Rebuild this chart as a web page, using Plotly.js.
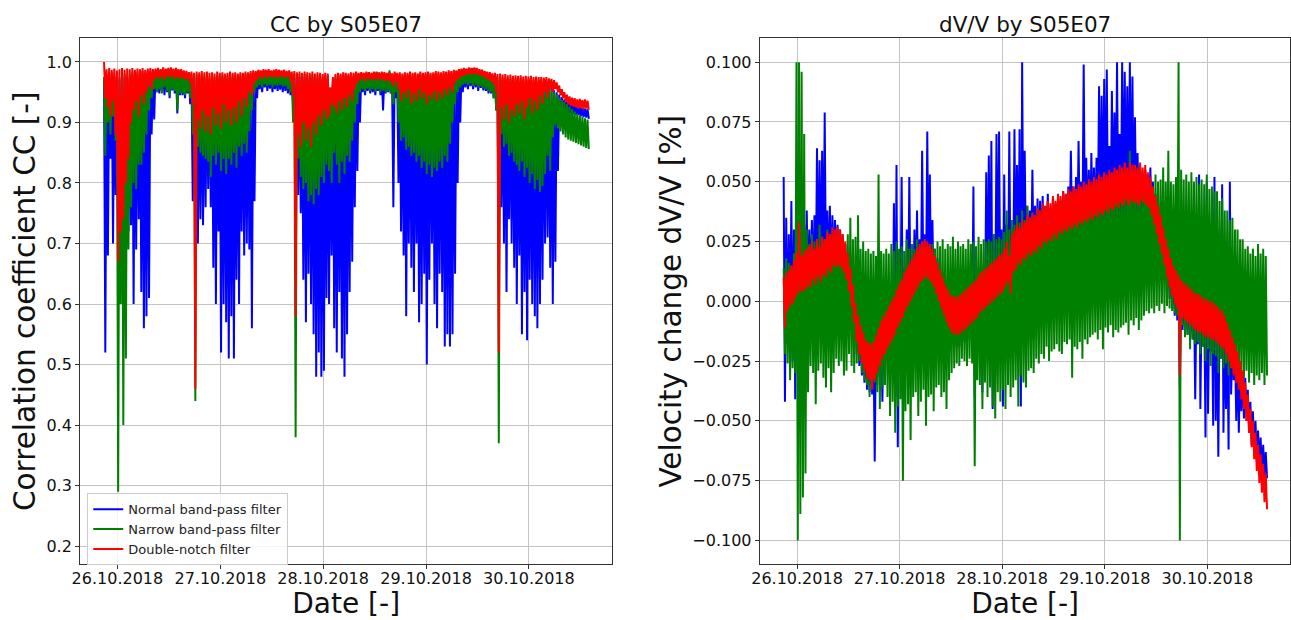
<!DOCTYPE html>
<html>
<head>
<meta charset="utf-8">
<script src="https://cdn.plot.ly/plotly-3.0.1.min.js"></script>
<style>
html,body{margin:0;padding:0;background:#ffffff;}
#chart{width:1291px;height:620px;}
</style>
</head>
<body>
<div id="chart"></div>
<script>
// ---------- categories / labels ----------
const seriesNames  = ['Normal band-pass filter', 'Narrow band-pass filter', 'Double-notch filter'];
const seriesColors = ['#0000ff', '#008000', '#ff0000'];
const dateTickValues = ['2018-10-26', '2018-10-27', '2018-10-28', '2018-10-29', '2018-10-30'];
const dateTickLabels = ['26.10.2018', '27.10.2018', '28.10.2018', '29.10.2018', '30.10.2018'];

// sampling grid of the read-off envelope: first sample and spacing (each sample = one max and one min reading)
const sampleStartUTC = Date.UTC(2018, 9, 25, 20, 52, 48);
const sampleStepMinutes = 36;

// ---------- CC values (x1000), per sample: upper reading / lower reading ----------
const ccNormalHi = [
970,975,972,977,970,975,971,974,976,972, 974,978,975,979,976,980,977,979,978,981,
979,981,980,983,981,982,984,981,982,980, 979,977,975,976,974,973,975,972,974,971,
973,971,974,970,973,972,974,971,973,972, 974,972,975,973,974,976,975,977,978,977,
979,978,980,979,980,978,979,980,979,978, 979,977,978,975,976,974,975,973,975,974,
973,975,972,974,973,971,973,972,945,967, 972,974,973,975,974,973,975,974,976,974,
975,974,976,975,974,976,979,978,976,975, 974,978,973,976,974,975,973,975,974,976,
974,975,973,976,974,975,976,974,975,977, 976,975,977,976,978,977,979,980,982,983,
984,983,985,984,985,983,980,978,976,975, 974,972,973,970,971,969,970,968,969,967,
968,967,968,966,967,966,967,965,966,964, 966,965,963,960,957,953,950,946,942,938,
935,932,930,928,926,925,924,923,922];
const ccNormalLo = [
520,680,840,700,780,650,700,750,660,720, 730,600,690,740,620,560,580,610,880,905,
950,948,952,945,950,940,953,948,915,945, 945,940,948,930,770,760,700,740,730,760,
790,760,660,600,720,520,600,570,510,580, 510,640,600,720,680,700,690,560,770,940,
955,950,958,952,956,950,955,952,954,950, 952,948,945,930,840,780,750,640,570,650,
600,550,480,520,480,490,610,600,680,560, 520,620,510,480,550,620,670,760,820,900,
950,945,952,948,950,945,952,945,920,948, 950,948,760,940,800,720,680,580,700,660,
620,700,570,600,650,500,640,700,600,560, 650,620,530,550,530,550,650,800,900,950,
958,955,960,955,958,952,957,953,952,948, 948,940,920,620,760,700,620,740,700,660,
600,680,550,620,540,640,600,580,560,600, 640,700,710,660,600,670,820,900,915,918,
916,915,914,913,912,910,909,908,906];
const ccNarrowHi = [
975,980,978,982,976,980,975,978,981,977, 979,983,980,984,981,985,982,984,983,986,
984,986,985,988,986,987,989,986,987,985, 984,982,980,981,979,978,980,977,979,976,
978,976,979,975,978,977,979,976,978,977, 979,977,980,978,979,981,980,982,983,982,
984,983,985,984,985,983,984,985,984,983, 984,982,983,980,981,979,980,978,980,979,
978,980,977,979,978,976,978,977,950,972, 977,979,978,980,979,978,980,979,981,979,
980,979,981,980,979,981,984,983,981,980, 979,986,978,981,979,980,978,980,979,981,
979,980,978,981,979,980,981,979,980,982, 981,980,982,981,983,982,984,985,987,988,
989,988,990,989,990,988,985,983,981,980, 979,977,978,975,976,974,975,973,974,972,
973,972,973,971,972,971,972,970,971,969, 968,966,964,960,955,950,946,941,937,934,
930,926,922,918,914,912,909,907,905];
const ccNarrowLo = [
845,900,880,910,870,290,600,400,510,690, 760,800,790,830,830,850,880,920,940,955,
950,955,948,958,952,945,955,952,920,948, 948,945,950,940,880,440,860,850,845,840,
835,810,845,830,850,820,840,815,840,830, 850,825,860,845,865,850,885,920,950,958,
962,958,963,960,962,958,961,960,962,959, 960,955,950,900,380,840,810,790,800,770,
780,765,790,780,810,800,830,820,800,850, 830,800,835,815,845,835,870,900,930,950,
955,952,956,952,955,951,955,950,953,950, 952,948,930,950,900,870,875,855,860,845,
850,835,845,825,835,815,830,810,825,820, 835,825,845,835,865,900,930,950,958,962,
964,962,964,960,962,958,960,957,955,952, 950,940,920,370,880,860,865,845,850,835,
830,820,835,810,825,800,815,790,805,785, 795,815,845,820,875,895,890,885,880,875,
872,870,868,866,864,862,860,858,856];
const ccNotchHi = [
1000,988,990,987,989,986,988,990,987,989, 988,990,987,989,988,990,987,989,990,988,
989,990,988,991,989,990,991,989,990,988, 988,986,985,983,984,982,984,983,985,983,
984,982,983,981,984,982,983,981,982,984, 982,983,981,983,982,984,983,985,986,985,
987,986,988,987,988,986,987,988,987,986, 987,985,986,984,985,983,984,982,984,983,
982,984,981,983,982,980,982,981,958,975, 980,982,981,983,982,981,983,982,984,982,
983,982,984,983,982,984,983,982,984,983, 982,983,981,984,982,983,981,983,982,984,
982,983,981,984,982,983,984,982,983,985, 984,983,985,984,986,985,987,986,988,989,
990,989,991,990,991,990,988,987,985,984, 983,981,982,980,981,979,980,978,979,977,
978,977,978,976,977,976,977,975,976,975, 975,974,975,973,972,970,966,961,955,950,
946,943,941,940,938,939,937,938,936];
const ccNotchLo = [
940,925,910,935,880,670,720,740,800,840, 900,920,935,910,945,930,950,960,955,970,
975,972,976,970,977,974,976,972,975,973, 974,970,972,965,930,460,905,890,920,885,
910,880,925,895,915,890,930,900,920,895, 925,900,935,910,940,925,950,945,965,970,
975,972,976,973,977,974,976,973,977,975, 974,976,968,945,580,880,860,900,870,890,
860,900,880,910,895,920,905,910,930,925, 915,935,920,940,925,945,935,955,965,970,
972,968,973,970,972,969,973,970,971,968, 970,966,960,968,955,935,950,940,955,930,
948,935,955,940,950,930,945,938,952,935, 950,940,955,945,958,950,965,970,975,977,
978,980,979,981,980,979,977,976,973,970, 968,963,950,520,925,905,930,900,920,910,
930,915,935,905,925,940,915,935,920,945, 930,950,940,955,950,955,950,945,940,935,
930,928,926,925,923,924,922,923,921];

// ---------- dV/V values (x1000, i.e. in 0.001 %), per sample: upper / lower reading ----------
const dvNormalHi = [
52,35,28,42,30,40,33,52,32,38, 30,34,36,64,59,63,79,38,40,36,
34,32,30,28,24,20,14,8,0,-5, -8,-11,-14,-15,-16,-15,-12,-9,-6,-4,
-2,0,4,41,57,10,52,14,30,52, 24,30,38,26,63,28,71,53,34,22,
18,15,12,9,7,5,4,4,4,5, 6,7,8,9,48,12,14,20,15,54,
61,67,28,70,71,30,53,32,71,30, 72,57,72,100,63,40,38,55,40,43,
42,44,40,45,39,43,41,44,42,46, 45,48,63,48,52,67,50,99,60,55,
62,56,60,90,86,93,97,65,88,79, 100,70,100,96,90,100,94,77,62,55,
54,55,53,56,50,45,40,36,31,26, 22,18,15,13,11,9,8,7,6,5,
4,3,53,2,1,50,0,0,52,-2, -3,49,-6,-9,50,-15,-18,-21,-25,-29,
-32,-37,-42,-46,-50,-54,-57,-60,-63];
const dvNormalLo = [
-42,-18,-14,-25,-41,-3,-2,-1,0,1, 2,3,2,4,3,5,6,7,8,9,
9,10,9,7,4,-1,-7,-14,-22,-27, -31,-34,-37,-38,-39,-67,-35,-32,-42,-27,
-25,-23,-21,-40,-61,-14,-12,-9,-7,-5, -3,-1,1,3,4,5,4,3,1,-2,
-5,-8,-11,-14,-16,-18,-19,-19,-19,-18, -17,-16,-15,-14,-40,-12,-10,-38,-8,-7,
-6,-45,-4,-3,-2,-44,1,3,-2,7, 9,10,-44,12,13,14,15,15,16,17,
18,19,20,20,21,22,22,23,24,24, 25,25,26,26,27,27,28,28,29,29,
30,30,31,31,32,32,33,33,34,34, 35,35,35,36,36,36,36,36,36,36,
36,35,34,31,27,23,19,15,10,5, 1,-3,-6,-8,-36,-12,-13,-14,-15,-16,
-41,-18,-45,-19,-57,-47,-21,-52,-50,-65, -24,-55,-45,-62,-39,-33,-50,-55,-46,-49,
-50,-55,-60,-64,-67,-70,-72,-73,-74];
const dvNarrowHi = [
14,18,16,15,20,100,100,96,70,30, 24,28,25,26,32,27,26,30,28,27,
26,30,25,27,24,28,35,26,27,36, 22,25,21,22,20,21,19,53,21,20,
22,20,24,21,25,22,23,21,26,22, 24,22,26,23,25,22,23,21,24,22,
25,23,26,22,24,23,27,22,25,23, 24,22,26,24,25,23,27,24,26,25,
26,25,28,26,27,26,29,38,30,34, 32,36,33,38,34,40,35,37,36,39,
38,40,37,42,39,41,40,43,41,44, 42,45,41,46,43,44,43,47,44,45,
44,46,44,48,45,47,45,49,46,48, 46,50,47,48,47,63,51,48,50,48,
48,52,49,50,48,53,50,51,56,50, 63,50,49,52,100,55,51,53,50,54,
50,52,49,51,49,53,47,48,46,46, 42,43,38,38,34,35,30,30,26,26,
22,23,20,22,19,24,20,22,19];
const dvNarrowLo = [
-22,-26,-33,-28,-30,-100,-89,-82,-72,-38, -27,-30,-43,-29,-26,-32,-36,-28,-38,-30,
-24,-27,-25,-31,-29,-22,-27,-30,-26,-25, -30,-33,-35,-40,-32,-34,-38,-45,-36,-35,
-40,-48,-42,-55,-44,-41,-75,-46,-43,-58, -40,-38,-48,-42,-37,-52,-40,-39,-46,-36,
-35,-40,-38,-45,-33,-30,-28,-26,-27,-24, -25,-27,-24,-26,-69,-33,-35,-45,-34,-40,
-36,-44,-49,-38,-42,-37,-45,-35,-40,-36, -33,-44,-31,-34,-36,-29,-28,-30,-24,-26,
-22,-24,-19,-25,-21,-20,-18,-21,-22,-17, -18,-16,-32,-19,-20,-17,-24,-16,-18,-15,
-14,-13,-16,-12,-20,-11,-13,-10,-15,-12, -13,-11,-10,-9,-14,-8,-10,-7,-12,-8,
-6,-4,-5,-3,-5,-2,-4,-1,-5,-2, -3,-4,-5,-6,-100,-10,-15,-14,-20,-16,
-18,-17,-22,-19,-25,-20,-27,-22,-23,-30, -24,-28,-26,-31,-27,-30,-28,-33,-29,-32,
-29,-34,-30,-35,-31,-33,-30,-35,-31];
const dvNotchHi = [
10,12,13,15,17,20,33,19,21,22, 23,25,22,26,23,27,26,29,28,31,
30,31,30,28,25,20,14,7,-1,-6, -10,-13,-16,-17,-18,-17,-14,-11,-8,-6,
-4,-2,0,2,5,7,9,12,14,16, 18,20,22,24,25,26,25,24,22,19,
16,13,10,7,5,3,2,2,2,3, 4,5,6,7,8,9,11,12,13,14,
15,16,17,18,19,20,22,25,19,28, 30,32,31,34,33,36,35,37,36,39,
38,41,40,42,41,44,42,45,44,46, 45,47,46,48,47,49,48,50,49,51,
50,52,51,53,52,54,53,55,54,56, 55,57,56,58,56,58,57,57,56,58,
56,57,54,52,48,44,40,36,31,26, 22,18,15,13,11,9,8,7,6,5,
4,3,3,2,1,1,0,0,-1,-2, -3,-4,-6,-9,-12,-15,-18,-21,-25,-29,
-34,-39,-45,-50,-55,-60,-64,-68,-72];
const dvNotchLo = [
-11,-4,-2,-1,1,3,4,4,5,6, 6,9,7,10,8,11,10,13,12,15,
14,15,14,12,9,4,-2,-9,-17,-22, -26,-29,-32,-33,-37,-33,-30,-27,-24,-22,
-20,-18,-16,-14,-11,-9,-7,-4,-2,0, 2,4,6,8,9,10,9,8,6,3,
0,-3,-6,-9,-11,-13,-14,-14,-14,-13, -12,-11,-10,-9,-8,-7,-5,-4,-3,-2,
-1,0,1,2,3,4,6,8,3,12, 13,16,15,18,17,20,19,21,20,23,
22,25,24,26,25,28,26,29,28,30, 29,31,30,32,31,33,32,34,33,35,
34,36,35,37,36,38,37,39,38,40, 39,41,40,42,40,42,41,41,40,42,
41,40,39,36,32,28,24,20,15,10, 6,2,-1,-3,-31,-7,-8,-9,-10,-11,
-12,-13,-13,-14,-15,-15,-16,-16,-17,-18, -19,-20,-22,-25,-28,-31,-34,-37,-41,-45,
-50,-55,-61,-66,-71,-76,-80,-84,-87];

// ---------- build traces ----------
function stamp(ms) {
  return new Date(ms).toISOString().slice(0, 19).replace('T', ' ');
}
function zigzag(hi, lo, scale) {
  const n = Math.min(hi.length, lo.length);
  const stepMs = sampleStepMinutes * 60000;
  const x = [], y = [];
  for (let i = 0; i < n; i++) {
    const t = sampleStartUTC + i * stepMs;
    x.push(stamp(t), stamp(t + stepMs / 2));
    y.push(hi[i] / scale, lo[i] / scale);
  }
  return {x: x, y: y};
}
const ccSets = [[ccNormalHi, ccNormalLo], [ccNarrowHi, ccNarrowLo], [ccNotchHi, ccNotchLo]];
const dvSets = [[dvNormalHi, dvNormalLo], [dvNarrowHi, dvNarrowLo], [dvNotchHi, dvNotchLo]];

const LINE_W = 2;
const traces = [];
ccSets.forEach(function (s, k) {
  const z = zigzag(s[0], s[1], 1000);
  traces.push({type: 'scatter', mode: 'lines', x: z.x, y: z.y, xaxis: 'x', yaxis: 'y',
    name: seriesNames[k], line: {color: seriesColors[k], width: LINE_W, simplify: false},
    showlegend: true, hoverinfo: 'skip'});
});
dvSets.forEach(function (s, k) {
  const z = zigzag(s[0], s[1], 1000);
  traces.push({type: 'scatter', mode: 'lines', x: z.x, y: z.y, xaxis: 'x2', yaxis: 'y2',
    name: seriesNames[k], line: {color: seriesColors[k], width: LINE_W, simplify: false},
    showlegend: false, hoverinfo: 'skip'});
});

const FONT = 'DejaVu Sans, Verdana, sans-serif';
const axisBase = {
  showline: true, mirror: true, linecolor: '#333333', linewidth: 1,
  ticks: 'outside', ticklen: 4, tickwidth: 1, tickcolor: '#333333',
  showgrid: true, gridcolor: '#c4c4c4', gridwidth: 1, zeroline: false,
  tickfont: {family: FONT, size: 16, color: '#111111'}
};
const xRange = ['2018-10-25 15:17', '2018-10-30 19:28'];
const yDomain = [0.0898, 0.9382];

const layout = {
  width: 1291, height: 620, autosize: false,
  margin: {l: 0, r: 0, t: 0, b: 0, pad: 0},
  paper_bgcolor: '#ffffff', plot_bgcolor: '#ffffff',
  font: {family: FONT, color: '#111111'},
  showlegend: true,
  xaxis: Object.assign({}, axisBase, {
    domain: [0.0620, 0.4743], anchor: 'y', type: 'date', range: xRange,
    tickmode: 'array', tickvals: dateTickValues, ticktext: dateTickLabels,
    ticklabelstandoff: -5,
    title: {text: 'Date [-]', font: {family: FONT, size: 28, color: '#111111'}, standoff: 9}
  }),
  yaxis: Object.assign({}, axisBase, {
    domain: yDomain, anchor: 'x', range: [0.170, 1.039],
    tick0: 0.2, dtick: 0.1, tickformat: '.1f',
    title: {text: 'Correlation coefficient CC [-]', font: {family: FONT, size: 29.5, color: '#111111'}, standoff: 2}
  }),
  xaxis2: Object.assign({}, axisBase, {
    domain: [0.5885, 0.9996], anchor: 'y2', type: 'date', range: xRange,
    tickmode: 'array', tickvals: dateTickValues, ticktext: dateTickLabels,
    ticklabelstandoff: -5,
    title: {text: 'Date [-]', font: {family: FONT, size: 28, color: '#111111'}, standoff: 9}
  }),
  yaxis2: Object.assign({}, axisBase, {
    domain: yDomain, anchor: 'x2', range: [-0.110, 0.110],
    tick0: 0, dtick: 0.025, tickformat: '.3f',
    title: {text: 'Velocity change dV/V [%]', font: {family: FONT, size: 29.5, color: '#111111'}, standoff: 2}
  }),
  legend: {
    x: 0.0676, y: 0.2044, xanchor: 'left', yanchor: 'top',
    bgcolor: 'rgba(255,255,255,0.8)', bordercolor: '#cccccc', borderwidth: 1,
    font: {family: FONT, size: 13, color: '#222222'}, tracegroupgap: 0
  },
  annotations: [
    {text: 'CC by S05E07', xref: 'paper', yref: 'paper', x: 0.2682, y: 1 - 25 / 620,
     xanchor: 'center', yanchor: 'middle', showarrow: false, font: {family: FONT, size: 21.5, color: '#111111'}},
    {text: 'dV/V by S05E07', xref: 'paper', yref: 'paper', x: 0.7940, y: 1 - 25 / 620,
     xanchor: 'center', yanchor: 'middle', showarrow: false, font: {family: FONT, size: 21.5, color: '#111111'}}
  ]
};

Plotly.newPlot('chart', traces, layout, {staticPlot: true, displayModeBar: false});
</script>
</body>
</html>
